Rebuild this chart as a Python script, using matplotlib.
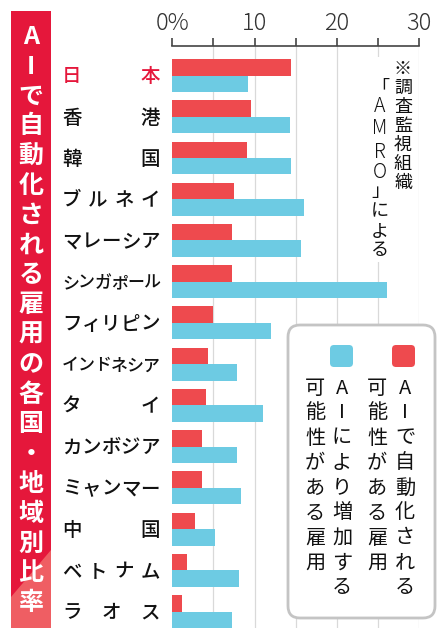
import numpy as np
import matplotlib
matplotlib.use('Agg')
import matplotlib.pyplot as plt
from matplotlib.patches import Rectangle, FancyBboxPatch, Polygon
from matplotlib.transforms import Affine2D, blended_transform_factory

plt.rcParams['font.family'] = ['Noto Sans CJK JP', 'DejaVu Sans']

# data (%)
countries = ['日本', '香港', '韓国', 'ブルネイ', 'マレーシア', 'シンガポール', 'フィリピン',
             'インドネシア', 'タイ', 'カンボジア', 'ミャンマー', '中国', 'ベトナム', 'ラオス']
automated = [14.4, 9.6, 9.1, 7.5, 7.3, 7.3, 4.9, 4.3, 4.1, 3.6, 3.6, 2.7, 1.8, 1.2]
increased = [9.2, 14.3, 14.4, 16.0, 15.6, 26.1, 12.0, 7.8, 11.0, 7.9, 8.4, 5.2, 8.1, 7.2]
xticks = [0, 10, 20, 30]
xticklabels = ['0%', '10', '20', '30']

title = 'AIで自動化される雇用の各国・地域別比率'
legend_red = ['AIで自動化される', '可能性がある雇用']
legend_cyan = ['AIにより増加する', '可能性がある雇用']

RED = '#EE4A4E'
CYAN = '#6DCBE3'
CRIMSON = '#E5173B'

W, H = 447, 640
fig = plt.figure(figsize=(W / 100, H / 100), dpi=100)
# pixel coords, origin top-left
pix = Affine2D().scale(1 / W, -1 / H).translate(0, 1) + fig.transFigure

ax = fig.add_axes([172.3 / W, 1 - 628 / H, (419.3 - 172.3) / W, (628 - 45.7) / H])
y = np.arange(len(countries))
ax.barh(y - 0.2, automated, height=0.4, color=RED, zorder=2)
ax.barh(y + 0.2, increased, height=0.4, color=CYAN, zorder=2)
ax.set_xlim(0, 30)
ax.set_ylim(13.4, 13.4 - 14.124)

for gx in range(5, 31, 5):
    ax.axvline(gx, color='#d9d9d9', lw=0.9, zorder=0)

for s in ['left', 'right', 'bottom']:
    ax.spines[s].set_visible(False)
ax.spines['top'].set_color('#444444')
ax.spines['top'].set_linewidth(1.2)
ax.xaxis.tick_top()
ax.set_xticks(xticks)
ax.set_xticks([5, 15, 25], minor=True)
ax.set_xticklabels(xticklabels, fontsize=17, color='#333333', fontweight='light')
ax.tick_params(axis='x', which='both', length=6, width=1.2, color='#444444', pad=1)
ax.tick_params(axis='y', left=False, labelleft=False)

# category labels, spread across the label column
lab_tr = blended_transform_factory(fig.transFigure, ax.transData)
for i, name in enumerate(countries):
    n = len(name)
    fs = 14 if n < 6 else 12.2
    em = fs * 100 / 72
    xs = np.linspace(62 + em / 2, 160 - em / 2, n)
    col = CRIMSON if i == 0 else '#111111'
    for cx, ch in zip(xs, name):
        ax.text(cx / W, i + 0.03, ch, transform=lab_tr, ha='center', va='center',
                fontsize=fs, color=col, fontweight='medium')


def vtext(x, y0, step, s, **kw):
    for k, ch in enumerate(s):
        fig.text(x, y0 + k * step, ch, transform=pix, ha='center', va='center', **kw)


# title box
fig.add_artist(Rectangle((11, 11), 40, 617, transform=pix, fc=CRIMSON, ec='none'))
fig.add_artist(Polygon([(51, 550), (51, 628), (11, 628), (11, 597)], closed=True,
                       transform=pix, fc='#EF5E63', ec='none'))
vtext(31, 37, 29.8, title, fontsize=18, color='white', fontweight='bold')

# source note
fig.add_artist(Rectangle((368, 57), 46, 205, transform=pix, fc='white', ec='none'))
vtext(403, 69, 19, '※調査監視組織', fontsize=13, color='#111111')
note_left = ['「', 'A', 'M', 'R', 'O', '」', 'に', 'よ', 'る']
note_left_y = [87, 106, 129, 152, 173, 192, 211, 232, 250]
for ch, ny in zip(note_left, note_left_y):
    fs = 14 if ch in 'AMRO' else 13
    fig.text(380, ny, ch, transform=pix, ha='center', va='center', fontsize=fs,
             color='#111111', fontweight='light' if ch in 'AMRO' else 'normal')

# legend
fig.add_artist(FancyBboxPatch((288, 325), 147, 293, boxstyle='round,pad=0,rounding_size=12',
                              transform=pix, fc='white', ec='#c4c4c4', lw=2))
fig.add_artist(FancyBboxPatch((392, 345), 23, 22, boxstyle='round,pad=0,rounding_size=4',
                              transform=pix, fc=RED, ec='none'))
fig.add_artist(FancyBboxPatch((330, 345), 23, 22, boxstyle='round,pad=0,rounding_size=4',
                              transform=pix, fc=CYAN, ec='none'))
vtext(405, 388, 25, legend_red[0], fontsize=14.5, color='#111111')
vtext(377, 388, 25, legend_red[1], fontsize=14.5, color='#111111')
vtext(342, 388, 25, legend_cyan[0], fontsize=14.5, color='#111111')
vtext(315, 388, 25, legend_cyan[1], fontsize=14.5, color='#111111')

fig.savefig('out.png', dpi=100)
